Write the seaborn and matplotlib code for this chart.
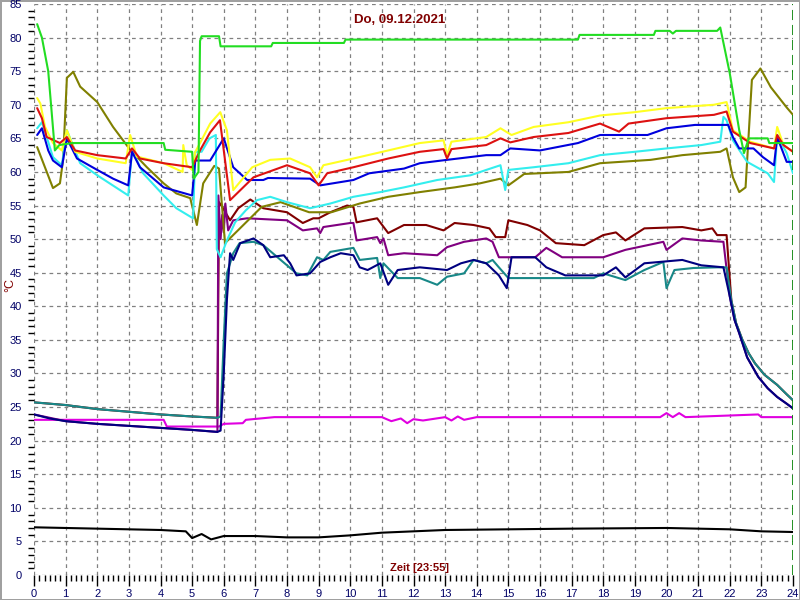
import matplotlib
matplotlib.use("Agg")
import matplotlib.pyplot as plt
from matplotlib.ticker import MultipleLocator
import seaborn as sns

# ---- data (hours, °C) ----
green_h = [0.1, 0.25, 0.45, 0.66, 0.8, 1.2, 4.1, 4.15, 5.0, 5.05, 5.2, 5.25, 5.3, 5.85, 5.9, 7.5, 7.55, 9.8, 9.85,
           17.2, 17.25, 19.6, 19.65, 20.1, 20.2, 20.3, 21.6, 21.7, 22.0, 22.3, 22.45, 22.6, 23.2, 23.25, 24.0]
green_t = [82.0, 80.0, 75.0, 63.2, 64.0, 64.3, 64.3, 63.3, 63.0, 59.0, 60.0, 79.5, 80.2, 80.2, 78.7, 78.7, 79.2, 79.2, 79.7,
           79.7, 80.4, 80.4, 81.0, 81.0, 80.6, 81.0, 81.0, 81.5, 74.7, 66.2, 62.8, 65.0, 65.0, 64.3, 64.3]

olive_h = [0.1, 0.6, 0.82, 0.92, 1.04, 1.24, 1.46, 2.0, 2.5, 3.04, 3.57, 4.1, 4.5, 4.94, 5.15, 5.35, 5.7, 5.85, 6.04,
           7.2, 7.8, 8.7, 9.4, 10.3, 11.2, 12.2, 13.3, 14.1, 14.75, 15.0, 15.5, 16.9, 17.9, 19.5, 20.5, 21.7, 21.9,
           22.1, 22.3, 22.5, 22.7, 22.97, 23.3, 23.8, 24.0]
olive_t = [63.7, 57.6, 58.3, 61.8, 74.0, 74.9, 72.7, 70.4, 66.7, 63.3, 60.7, 58.3, 56.8, 56.1, 52.1, 58.3, 60.9, 60.5, 49.4,
           54.8, 55.5, 54.0, 54.0, 55.3, 56.3, 57.0, 57.7, 58.3, 59.0, 58.0, 59.7, 60.0, 61.3, 61.8, 62.5, 63.0, 63.5,
           59.2, 57.0, 57.7, 73.7, 75.4, 72.6, 69.6, 68.5]

yellow_h = [0.1, 0.2, 0.35, 0.6, 0.88, 1.04, 1.3, 2.0, 2.9, 3.04, 3.25, 4.1, 4.7, 4.72, 4.83, 5.0, 5.1, 5.25, 5.57,
            5.89, 6.1, 6.3, 6.9, 7.47, 8.1, 8.73, 8.95, 9.15, 10.1, 11.2, 12.2, 12.95, 13.06, 13.2, 14.3, 14.75,
            15.1, 15.8, 16.9, 17.9, 19.0, 20.0, 21.5, 21.9, 22.1, 22.65, 23.4, 23.5, 23.7, 24.0]
yellow_t = [71.0, 70.2, 66.7, 64.3, 63.2, 66.2, 63.0, 62.0, 61.3, 65.5, 62.3, 61.3, 60.0, 64.0, 61.0, 60.3, 63.0, 64.3, 67.2,
            68.9, 66.2, 57.3, 60.7, 61.8, 62.0, 60.7, 59.2, 61.0, 62.0, 63.2, 64.3, 64.7, 62.5, 64.5, 65.2, 66.5,
            65.5, 66.7, 67.4, 68.4, 68.9, 69.5, 70.0, 70.4, 66.2, 64.5, 63.5, 66.7, 64.0, 63.0]

red_h = [0.1, 0.25, 0.4, 0.82, 1.04, 1.3, 2.0, 2.9, 3.1, 3.35, 4.1, 5.0, 5.25, 5.57, 5.88, 6.2, 6.94, 8.0, 8.73, 9.0,
         9.27, 10.1, 11.2, 12.2, 12.95, 13.06, 13.2, 14.3, 14.75, 15.06, 15.8, 16.9, 17.9, 18.5, 18.8, 20.0, 21.5,
         21.9, 22.1, 22.65, 23.4, 23.5, 23.7, 24.0]
red_t = [69.5, 68.0, 65.2, 64.3, 65.2, 63.2, 62.5, 62.0, 63.5, 62.0, 61.3, 60.7, 63.2, 65.9, 67.7, 55.8, 59.2, 61.0, 59.8, 58.0,
         59.8, 60.7, 62.0, 63.0, 63.4, 62.0, 63.4, 64.0, 65.0, 64.4, 65.2, 65.8, 67.2, 66.0, 67.2, 68.0, 68.5,
         69.0, 66.0, 64.3, 63.5, 65.5, 64.0, 63.0]

blue_h = [0.1, 0.25, 0.45, 0.6, 0.88, 1.04, 1.36, 2.0, 2.5, 2.98, 3.1, 3.35, 4.1, 5.0, 5.1, 5.57, 6.0, 6.3, 6.74, 7.25,
          7.4, 8.73, 9.05, 10.1, 10.6, 11.7, 12.2, 13.06, 14.3, 14.75, 15.06, 16.0, 17.2, 17.9, 19.4, 20.0, 20.9,
          21.95, 22.1, 22.3, 22.75, 23.05, 23.4, 23.5, 23.8, 24.0]
blue_t = [65.5, 66.5, 63.2, 61.7, 60.7, 65.0, 62.0, 60.3, 59.0, 58.0, 63.0, 60.7, 57.7, 56.5, 61.7, 61.7, 65.0, 60.7, 58.8, 58.8,
          59.1, 59.0, 58.0, 58.8, 59.8, 60.5, 61.3, 61.8, 62.5, 62.5, 63.5, 63.2, 64.3, 65.5, 65.5, 66.5, 67.0,
          67.0, 65.2, 63.5, 63.5, 62.2, 61.0, 65.2, 61.5, 61.5]

cyan_h = [0.1, 0.25, 0.4, 0.6, 0.88, 1.04, 1.46, 2.0, 2.98, 3.1, 3.45, 4.1, 4.5, 5.03, 5.1, 5.3, 5.55, 5.75, 5.78, 5.9,
          6.1, 6.36, 6.7, 7.05, 7.47, 8.0, 8.73, 9.37, 10.1, 10.95, 11.7, 12.75, 13.8, 14.3, 14.75, 14.9, 15.0,
          15.8, 16.9, 17.9, 19.0, 20.0, 21.1, 21.7, 21.8, 21.9, 22.1, 22.55, 23.2, 23.4, 23.5, 23.8, 24.0]
cyan_t = [66.5, 67.4, 65.2, 62.2, 61.0, 66.2, 61.3, 59.5, 56.5, 63.2, 59.8, 56.5, 54.6, 53.1, 63.0, 63.0, 65.0, 65.5, 48.5, 47.3,
          49.8, 52.5, 54.3, 55.8, 56.3, 55.5, 54.6, 55.3, 56.3, 57.0, 57.7, 58.8, 59.5, 60.3, 61.0, 57.3, 60.3,
          60.7, 61.3, 62.5, 63.0, 63.5, 64.0, 64.5, 68.2, 67.7, 64.7, 61.5, 59.8, 58.5, 65.5, 62.8, 59.8]

maroon_h = [0.0, 1.0, 2.0, 3.0, 4.0, 5.0, 5.8, 5.85, 5.95, 6.2, 6.46, 6.84, 7.25, 8.0, 8.5, 8.83, 9.0, 9.37, 9.9,
            10.1, 10.2, 10.85, 11.2, 11.7, 12.4, 12.95, 13.3, 13.9, 14.4, 14.6, 14.9, 15.0, 15.6, 16.0, 16.5,
            17.4, 18.0, 18.4, 18.7, 19.3, 20.5, 21.1, 21.45, 21.6, 21.9, 22.05, 22.2, 22.4, 22.6, 22.8, 23.1,
            23.5, 23.8, 24.0]
maroon_t = [25.7, 25.3, 24.7, 24.3, 23.9, 23.6, 23.4, 55.5, 54.8, 52.8, 54.6, 55.9, 54.6, 54.0, 52.4, 53.1, 53.1, 54.0, 55.0,
            54.8, 52.5, 53.1, 50.9, 52.1, 52.1, 51.3, 52.4, 52.1, 51.6, 50.3, 50.3, 52.8, 52.1, 51.3, 49.4,
            49.1, 50.6, 51.0, 49.8, 51.6, 51.8, 51.3, 51.6, 50.6, 50.6, 40.9, 37.5, 35.0, 33.0, 31.5, 29.8,
            28.3, 26.9, 26.0]

purple_h = [0.0, 1.0, 2.0, 3.0, 4.0, 5.0, 5.8, 5.83, 5.9, 5.95, 6.0, 6.05, 6.14, 6.3, 6.74, 8.0, 8.5, 8.95, 9.05,
            9.15, 10.0, 10.1, 10.2, 10.85, 10.95, 11.05, 11.2, 11.7, 12.75, 13.06, 13.6, 14.3, 14.5, 14.7,
            15.0, 15.85, 16.2, 16.7, 18.0, 18.7, 19.9, 20.0, 20.5, 21.1, 21.8, 22.0, 22.15, 22.3, 22.55, 22.9,
            23.2, 23.5, 23.8, 24.0]
purple_t = [23.9, 22.9, 22.5, 22.2, 21.9, 21.6, 21.3, 56.5, 50.0, 53.6, 51.0, 55.3, 51.3, 52.8, 53.1, 52.8, 51.3, 51.6, 50.9,
            51.8, 52.4, 52.4, 49.8, 50.3, 49.4, 50.1, 47.6, 47.9, 47.6, 48.8, 49.6, 50.1, 49.6, 47.3,
            47.3, 47.3, 48.7, 47.3, 47.3, 48.4, 49.6, 48.4, 50.1, 49.8, 49.6, 41.5, 38.0, 36.0, 32.4, 29.5,
            27.8, 26.5, 25.5, 24.8]

navy_h = [0.0, 0.5, 1.0, 2.0, 3.0, 4.0, 5.0, 5.8, 5.9, 6.0, 6.1, 6.2, 6.3, 6.52, 6.94, 7.25, 7.47, 7.9, 8.1, 8.3,
          8.73, 9.05, 9.37, 9.7, 10.1, 10.3, 10.55, 10.95, 11.2, 11.5, 12.2, 13.06, 13.5, 13.9, 14.3, 14.7, 14.95,
          15.1, 15.85, 16.2, 16.8, 18.0, 18.4, 18.7, 19.3, 20.5, 21.1, 21.8, 22.0, 22.15, 22.3, 22.55, 22.9,
          23.2, 23.5, 23.8, 24.0]
navy_t = [23.9, 23.3, 22.9, 22.5, 22.2, 21.9, 21.6, 21.3, 21.5, 30.0, 41.0, 47.9, 46.9, 49.4, 50.1, 49.1, 47.3, 47.6, 46.4, 44.6,
          44.9, 46.6, 47.3, 47.9, 47.6, 45.8, 45.4, 46.4, 43.2, 45.4, 45.8, 45.4, 46.4, 46.9, 46.4, 44.6, 42.7,
          47.3, 47.3, 45.8, 44.6, 44.6, 45.8, 44.3, 46.4, 46.9, 46.1, 45.8, 41.5, 38.0, 36.0, 32.4, 29.5,
          27.8, 26.5, 25.5, 24.8]

teal_h = [0.0, 1.0, 2.0, 3.0, 4.0, 5.0, 5.8, 5.9, 6.0, 6.1, 6.3, 6.5, 6.94, 7.25, 7.7, 8.3, 8.64, 8.95, 9.15, 9.37,
          10.1, 10.3, 10.85, 10.95, 11.05, 11.5, 12.2, 12.75, 13.06, 13.6, 13.9, 14.3, 14.5, 14.7, 15.0, 16.0,
          17.7, 18.0, 18.7, 19.3, 19.9, 20.0, 20.25, 20.85, 21.6, 21.9, 22.05, 22.2, 22.4, 22.6, 22.8, 23.1,
          23.5, 23.8, 24.0]
teal_t = [25.7, 25.3, 24.7, 24.3, 23.9, 23.6, 23.4, 23.6, 35.0, 44.9, 47.9, 49.4, 49.6, 49.1, 47.3, 44.9, 44.6, 47.3, 46.9, 48.1,
          48.7, 46.9, 47.2, 44.2, 46.4, 44.2, 44.2, 43.2, 44.4, 44.9, 46.9, 46.4, 46.9, 45.8, 44.2, 44.2,
          44.2, 44.9, 43.9, 45.4, 46.6, 42.7, 45.4, 45.7, 45.8, 45.8, 40.9, 37.5, 35.0, 33.0, 31.5, 29.8,
          28.3, 26.9, 26.0]

magenta_h = [0.0, 4.1, 4.2, 5.85, 6.0, 6.6, 6.7, 7.6, 11.0, 11.3, 11.6, 11.8, 12.0, 12.3, 13.0, 13.2, 13.4, 13.6, 14.0,
             19.8, 20.0, 20.2, 20.4, 20.6, 22.9, 23.0, 24.0]
magenta_t = [23.1, 23.1, 22.1, 22.1, 22.5, 22.6, 23.1, 23.5, 23.5, 22.9, 23.3, 22.6, 23.2, 23.0, 23.5, 23.0, 23.6, 23.1, 23.5,
             23.5, 24.1, 23.5, 24.1, 23.5, 23.9, 23.5, 23.5]

black_h = [0.0, 1.0, 2.0, 3.0, 4.0, 4.8, 5.0, 5.3, 5.6, 6.0, 7.0, 8.0, 9.0, 10.0, 11.0, 12.0, 13.0, 15.0, 17.0, 20.0,
           21.0, 22.0, 23.0, 24.0]
black_t = [7.1, 7.0, 6.9, 6.8, 6.7, 6.5, 5.5, 6.1, 5.3, 5.8, 5.8, 5.6, 5.6, 5.9, 6.3, 6.5, 6.7, 6.8, 6.9, 7.0,
           6.9, 6.8, 6.5, 6.4]

series = [
    ("magenta", magenta_h, magenta_t, "#e000e0"),
    ("black", black_h, black_t, "#000000"),
    ("maroon", maroon_h, maroon_t, "#800000"),
    ("purple", purple_h, purple_t, "#800080"),
    ("teal", teal_h, teal_t, "#188888"),
    ("navy", navy_h, navy_t, "#000080"),
    ("olive", olive_h, olive_t, "#808000"),
    ("cyan", cyan_h, cyan_t, "#33eeee"),
    ("blue", blue_h, blue_t, "#0000dd"),
    ("yellow", yellow_h, yellow_t, "#ffff22"),
    ("red", red_h, red_t, "#dd1111"),
    ("green", green_h, green_t, "#22dd22"),
]

sns.set_theme(style="white")
plt.rcParams["font.family"] = ["Liberation Sans", "DejaVu Sans"]

fig = plt.figure(figsize=(8, 6), dpi=100, linewidth=2, edgecolor="#a0a0a0")
ax = fig.add_axes([34 / 800, 25 / 600, 759 / 800, 571 / 600])

for name, hh, tt, col in series:
    sns.lineplot(x=hh, y=tt, color=col, lw=1.5, estimator=None, sort=False, ax=ax)

ax.axvline(24, color="#008000", lw=1.2, dashes=(6, 3))

ax.set_xlim(0, 24)
ax.set_ylim(0, 85)
ax.xaxis.set_major_locator(MultipleLocator(1))
ax.xaxis.set_minor_locator(MultipleLocator(1 / 6))
ax.yaxis.set_major_locator(MultipleLocator(5))
ax.yaxis.set_minor_locator(MultipleLocator(1))
ax.grid(True, which="major", color="#808080", lw=0.9, dashes=(3, 3))
ax.set_axisbelow(True)
for s in ax.spines.values():
    s.set_visible(False)

ax.tick_params(axis="both", which="both", direction="out", colors="#000000", labelcolor="#000066", labelsize=8)
ax.tick_params(axis="y", which="major", length=7, width=1, pad=2)
ax.tick_params(axis="y", which="minor", length=4, width=1, left=True)
ax.tick_params(axis="x", which="major", length=8, width=1, pad=2, bottom=True)
ax.tick_params(axis="x", which="minor", length=4, width=1, bottom=True)

ax.set_xlabel("")
ax.set_ylabel("")
ax.text(0.482, 0.972, "Do, 09.12.2021", transform=ax.transAxes, ha="center", va="center",
        color="#800000", fontsize=9.5, fontweight="bold")
ax.text(0.508, 0.012, "Zeit [23:55]", transform=ax.transAxes, ha="center", va="center",
        color="#800000", fontsize=8, fontweight="bold")
fig.text(10 / 800, 1 - 285 / 600, "°C", rotation=90, ha="center", va="center",
         color="#800000", fontsize=9)

fig.savefig("out.png", dpi=100, edgecolor=fig.get_edgecolor(), facecolor="white")
